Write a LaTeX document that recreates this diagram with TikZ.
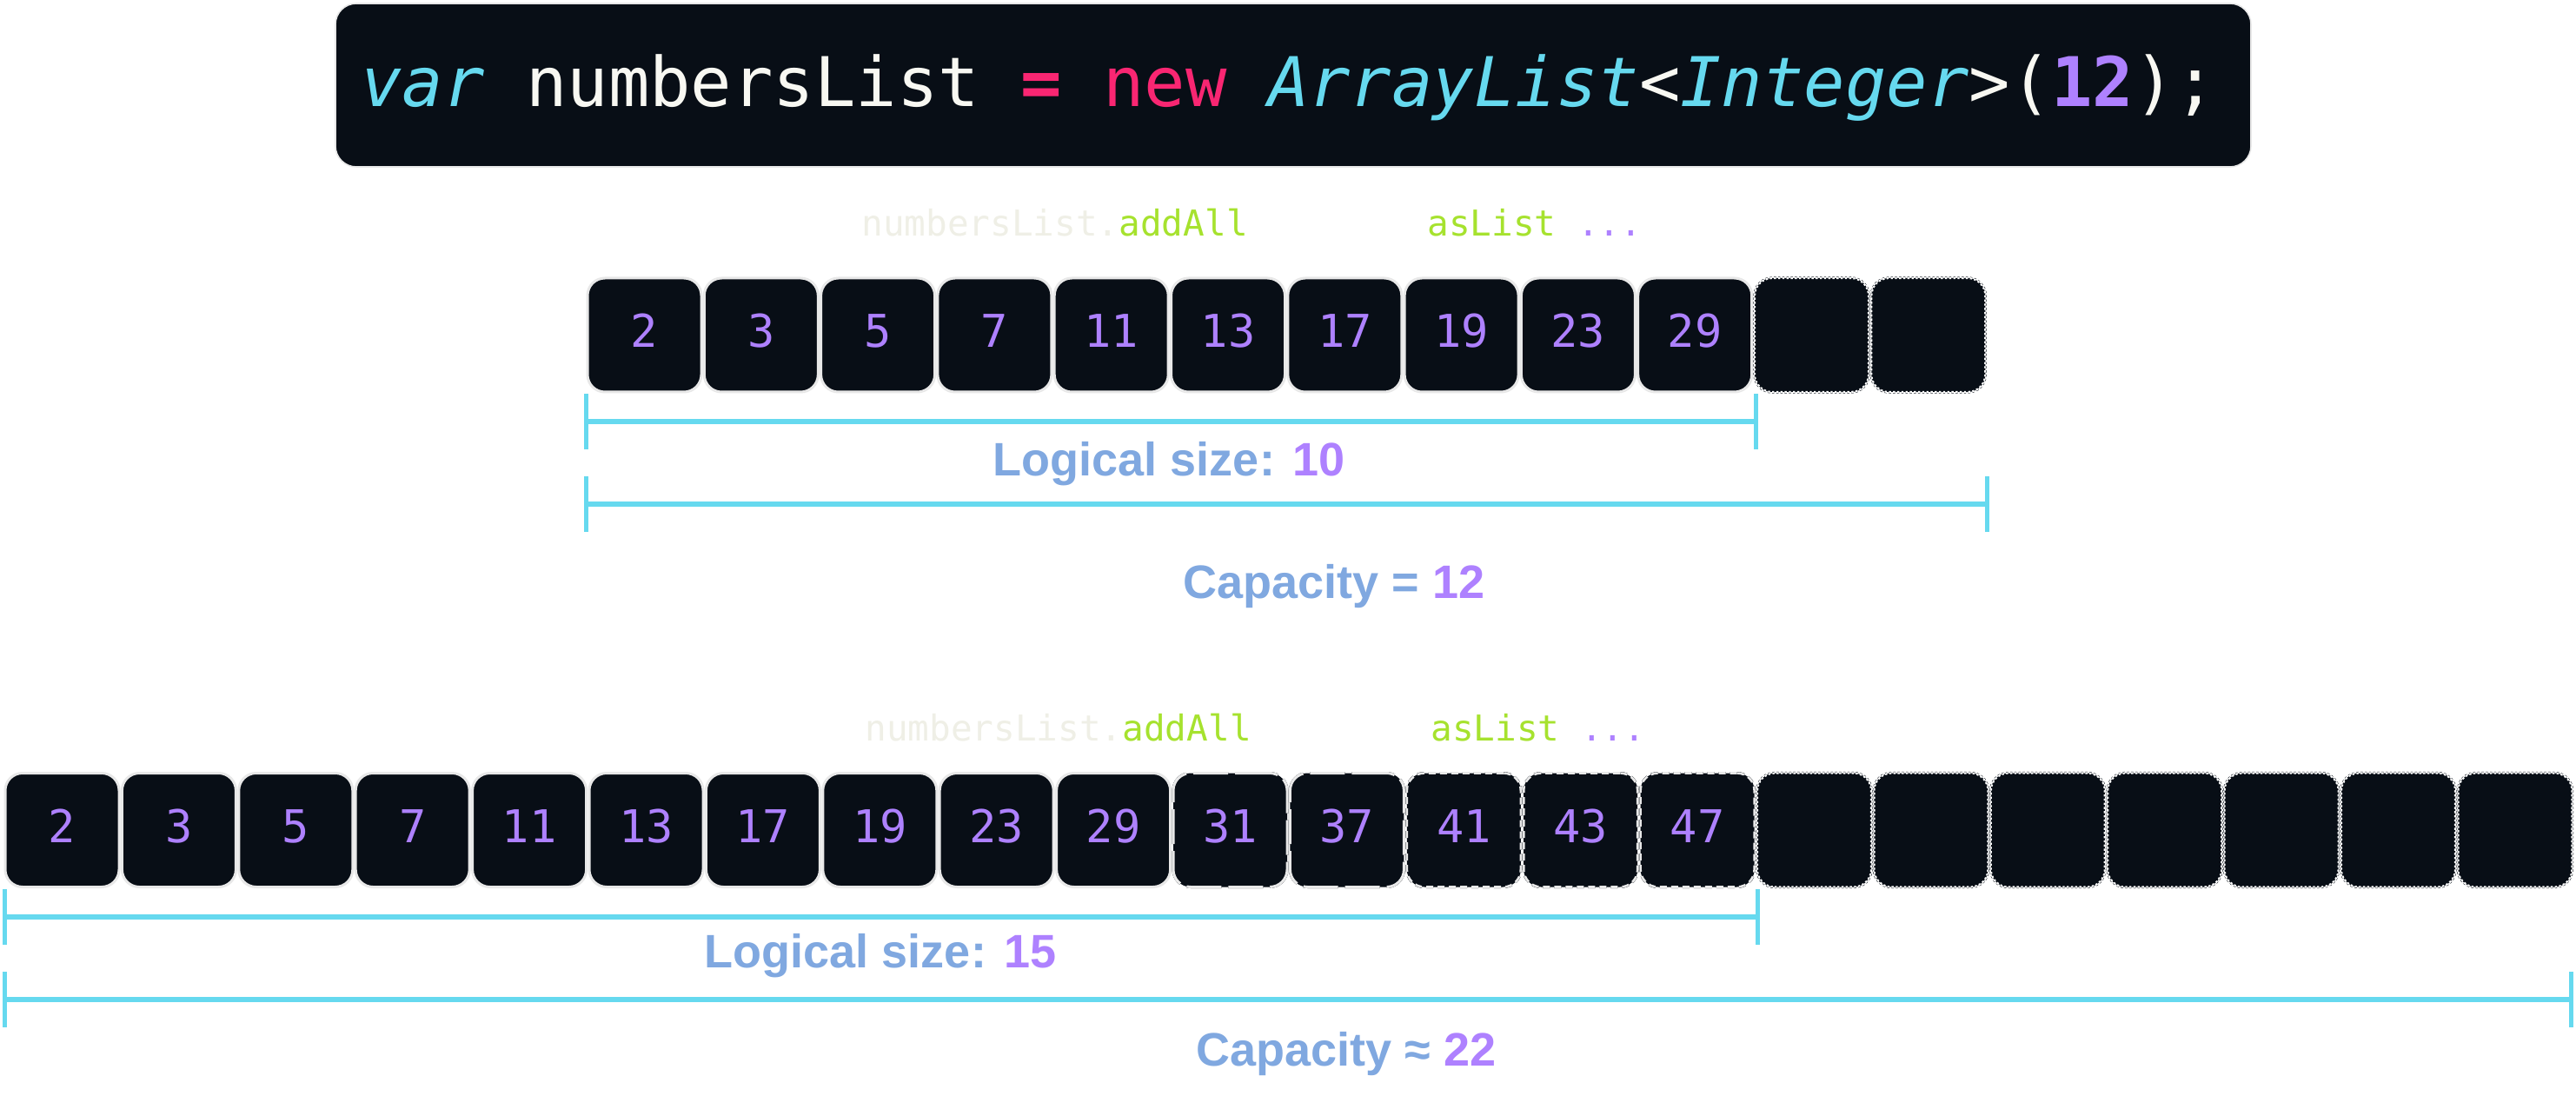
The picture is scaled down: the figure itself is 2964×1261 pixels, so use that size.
\documentclass[tikz,border=0pt]{standalone}
\usepackage{fontspec}
\newfontfamily\mono{DejaVu Sans Mono}
\newfontfamily\labfont{Liberation Sans}
\definecolor{bg}{HTML}{080E16}
\definecolor{edge}{HTML}{E8E8E8}
\definecolor{mcyan}{HTML}{66D9EF}
\definecolor{mpink}{HTML}{F92672}
\definecolor{mpurple}{HTML}{AE81FF}
\definecolor{mgreen}{HTML}{A6E22E}
\definecolor{mwhite}{HTML}{F8F8F2}
\definecolor{faint}{HTML}{EFEFE6}
\definecolor{lblue}{HTML}{80A8E0}
\definecolor{bracket}{HTML}{66D9EF}
\tikzset{
  cell/.style={rounded corners=10pt, fill=bg, minimum width=65.5pt, minimum height=65.5pt,
    inner sep=0pt, font=\mono\fontsize{26}{28}\selectfont, text=mpurple, text height=19pt, text depth=5pt},
  solidcell/.style={cell, draw=edge, line width=1.5pt},
  longdash/.style={cell, preaction={draw=bg, line width=1.5pt}, draw=edge, line width=1.5pt, dash pattern=on 20pt off 4pt},
  shortdash/.style={cell, preaction={draw=bg, line width=1.5pt}, draw=edge, line width=1.3pt, dash pattern=on 4pt off 2.5pt},
  dotcell/.style={cell, preaction={draw=bg, line width=1.6pt}, draw=white, line width=1.1pt, dash pattern=on 1.2pt off 1.2pt},
  hint/.style={anchor=base west, inner sep=0pt, font=\mono\fontsize{20.5}{22}\selectfont},
  caption/.style={anchor=base, inner sep=0pt, font=\labfont\bfseries\fontsize{27}{30}\selectfont, text=lblue},
  bar/.style={draw=bracket, line width=3.2pt},
  tick/.style={draw=bracket, line width=2.5pt},
}
\begin{document}
\begin{tikzpicture}[x=0.5pt, y=-0.5pt]
\useasboundingbox[fill=white] (0,0) rectangle (2964,1261);

% code banner
\path[fill=bg, draw=edge, line width=0.8pt, rounded corners=12pt] (386,4) rectangle (2590,192);
\node[anchor=base west, inner sep=0pt, font=\mono\fontsize{39.4}{42}\selectfont] (code) at (415,123)
  {{\color{mcyan}\itshape var} {\color{mwhite}numbersList} {\color{mpink}\bfseries =} {\color{mpink}new} {\color{mcyan}\itshape ArrayList}{\color{mwhite}<}{\color{mcyan}\itshape Integer}{\color{mwhite}>(}{\color{mpurple}\bfseries 12}{\color{mwhite});}};

% top hints
\node[hint] (h1) at (991,272) {{\color{faint}numbersList.}{\color{mgreen}addAll}};
\node[hint] (h2) at (1642,272) {{\color{mgreen}asList} {\color{mpurple}...}};

% top row
\foreach \v [count=\i from 0] in {2,3,5,7,11,13,17,19,23,29} {
  \node[solidcell] (t\i) at ({676+\i*134.3+65.5},385.5) {\v};
}
\foreach \i in {10,11} {
  \node[dotcell] (t\i) at ({676+\i*134.3+65.5},385.5) {};
}

% top brackets
\coordinate (a1) at (674,485); \coordinate (a2) at (2020,485);
\draw[bar] (a1) -- (a2);
\draw[tick] ([yshift=16pt]a1) -- ([yshift=-16pt]a1);
\draw[tick] ([yshift=16pt]a2) -- ([yshift=-16pt]a2);
\node[caption] (l1) at (1345,547) {Logical size: {\color{mpurple}10}};

\coordinate (b1) at (674,580); \coordinate (b2) at (2286,580);
\draw[bar] (b1) -- (b2);
\draw[tick] ([yshift=16pt]b1) -- ([yshift=-16pt]b1);
\draw[tick] ([yshift=16pt]b2) -- ([yshift=-16pt]b2);
\node[caption] (c1) at (1535,688) {Capacity = {\color{mpurple}12}};

% bottom hints
\node[hint] (h3) at (995,852) {{\color{faint}numbersList.}{\color{mgreen}addAll}};
\node[hint] (h4) at (1646,852) {{\color{mgreen}asList} {\color{mpurple}...}};

% bottom row
\foreach \v [count=\i from 0] in {2,3,5,7,11,13,17,19,23,29} {
  \node[solidcell] (u\i) at ({6+\i*134.4+65.5},955) {\v};
}
\foreach \v [count=\i from 10] in {31,37} {
  \node[longdash] (u\i) at ({6+\i*134.4+65.5},955) {\v};
}
\foreach \v [count=\i from 12] in {41,43,47} {
  \node[shortdash] (u\i) at ({6+\i*134.4+65.5},955) {\v};
}
\foreach \i in {15,...,21} {
  \node[dotcell] (u\i) at ({6+\i*134.4+65.5},955) {};
}

% bottom brackets
\coordinate (d1) at (5,1055); \coordinate (d2) at (2022,1055);
\draw[bar] (d1) -- (d2);
\draw[tick] ([yshift=16pt]d1) -- ([yshift=-16pt]d1);
\draw[tick] ([yshift=16pt]d2) -- ([yshift=-16pt]d2);
\node[caption] (l2) at (1013,1113) {Logical size: {\color{mpurple}15}};

\coordinate (e1) at (5,1150); \coordinate (e2) at (2958,1150);
\draw[bar] (e1) -- (e2);
\draw[tick] ([yshift=16pt]e1) -- ([yshift=-16pt]e1);
\draw[tick] ([yshift=16pt]e2) -- ([yshift=-16pt]e2);
\node[caption] (c2) at (1549,1226) {Capacity ≈ {\color{mpurple}22}};
\end{tikzpicture}
\end{document}
